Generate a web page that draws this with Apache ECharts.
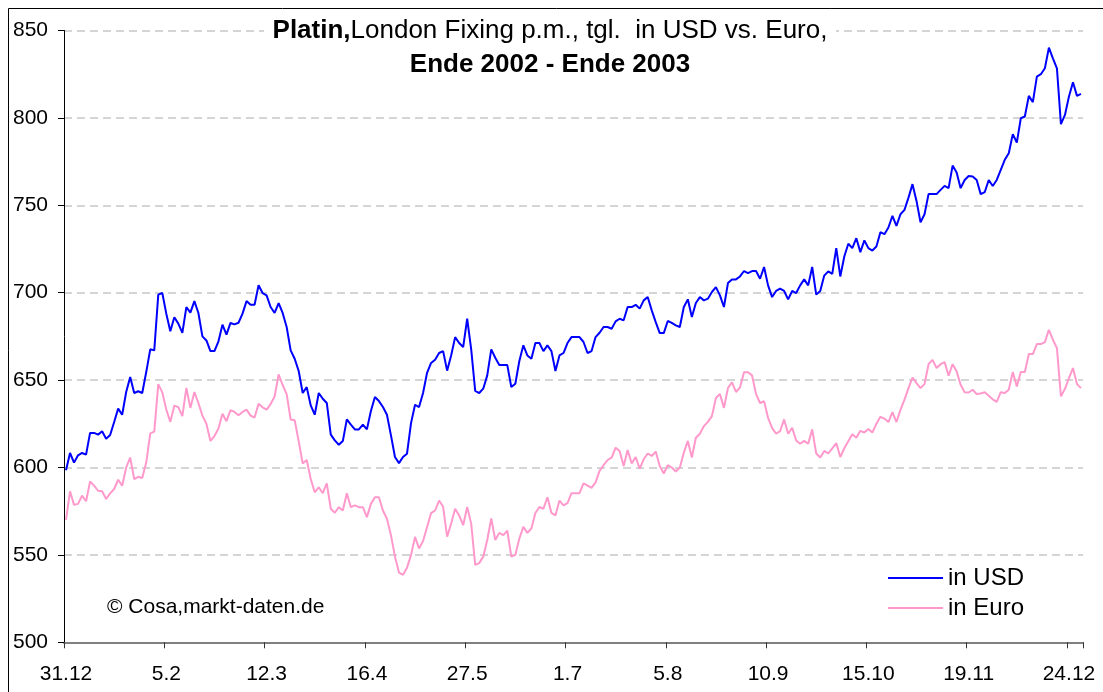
<!DOCTYPE html>
<html>
<head>
<meta charset="utf-8">
<script src="https://cdn.jsdelivr.net/npm/echarts@6/dist/echarts.min.js"></script>
<style>
html,body{margin:0;padding:0;background:#fff;}
#chart{width:1103px;height:692px;}
</style>
</head>
<body>
<div id="chart"></div>
<script>
// ---- data ----
const tickLabels = ['31.12','5.2','12.3','16.4','27.5','1.7','5.8','10.9','15.10','19.11','24.12'];
const labelEvery = 25;
const seriesNames = ['in USD', 'in Euro'];

const usd = [
598.4,608.3,602.8,607,608.3,607.4,619.8,619.8,618.8,620.7,
616.5,618.6,626,633.7,630.2,643.2,651.8,642.6,643.6,642.6,
654.6,667.6,667,698.9,699.8,688,678,686,682.3,677,
691.8,688.6,695.2,688.4,675,672.7,666.6,666.6,672.2,681.7,
676,682.7,681.9,682.8,688,695.2,693.1,693.1,704.3,699.8,
698.5,691.8,688.4,694.1,688.4,680.4,667,662.2,655.2,642.6,
646,635.5,630.2,642.6,639.3,636.9,618.8,615.5,613,615.1,
627.5,624.5,621.8,621.8,624.5,621.8,632.3,640.3,638,634.6,
630.2,618.4,606,602.5,606,607.9,625.4,635.9,634.6,642.6,
654.2,659.8,661.7,665.5,666.6,655.4,664.1,674.6,671.2,668.9,
685.1,667.6,643.8,642.6,645.1,652.7,667.6,662.8,658.6,658.6,
658.6,646,647.9,660.9,669.9,664.1,662.2,671.2,671.2,666.6,
669.9,666.6,655.2,664.1,665.5,671.2,674.6,674.6,674.6,671.8,
665.5,666.6,674.6,677.1,680.4,680.4,679.4,683.6,685.1,684.2,
691.8,691.8,693.1,690.9,695.6,697.5,689.9,683.2,676.9,676.9,
683.8,682.7,681.3,680.4,691.8,696.2,686.1,694.1,697.5,695.6,
696.6,700.4,703.2,698.5,691.8,705.5,707.6,707.6,709.3,712.4,
711.2,712.4,712.4,708,714.7,704.2,697.5,701,702.3,701,
696.2,701,699.8,704.2,707.6,704.2,714.7,698.9,701,709.8,
712.2,710.8,725.5,709.3,720.7,728,725.5,731.2,723.2,729.9,
725.5,724.1,726.4,734.6,733.5,737.3,744,738.2,744.9,747.4,
754.4,762.1,752.5,740.3,744.9,756.4,756.4,756.4,758.8,761.1,
759.8,772.7,768.7,759.8,764.5,766.8,766.5,764.5,756.4,757.5,
764.5,761,764.5,770.3,776,779.8,790.7,785.9,799.8,800.8,
812.6,809,823.6,825,828.4,840.2,834.1,828.4,796.4,801.7,
812.2,820.4,812.6,813.7
];

const euro = [
570.1,586.4,578.6,579.2,583.9,580.7,592,589.6,586.7,586.4,
582,585.2,587.7,593,589.6,600,605.7,593.4,594.7,594,
602.8,619.5,620.5,647.7,643,633.1,626.1,635.4,634.5,629.4,
645.5,634.1,643.2,636.9,629.7,625,615.2,618,622.3,630.7,
626.5,632.8,631.8,629.9,631.8,633.1,629.7,628.6,636.4,634.4,
633.1,636.3,640.6,653.3,647.2,642,627.4,627,615.1,602.3,
604.3,593.4,585.8,588.7,585.3,590.9,576.4,574.1,577.3,575.4,
585.3,577.3,578.3,577.3,577.3,571.6,579.2,583,583,575.4,
570.7,561.3,549,539.9,538.6,542.7,549.9,560.3,553.7,558,
566,573.9,575.4,581.1,577.5,560.4,567.9,576.4,572.6,567,
577.4,567.9,544.3,545.3,549,558.5,570.8,558.5,562.6,561.3,
563.8,549,550,559.4,566,562.6,565.1,574,577.4,576.4,
583,574,572.6,581.1,578.3,579.6,585.3,585.3,585.3,590.9,
589.6,588.3,591.5,598.1,601.3,604.3,605.7,611.3,609.4,600.9,
610,602.3,606,599.4,604.7,608,606.6,609.1,600.9,596.6,
601.3,600,597.7,600,608.5,615.2,605.7,617,619.3,623.7,
626.1,629.4,639.8,642,634.1,645.5,648.7,643.2,645.8,654.5,
654.5,652.7,642,636.9,637.9,628.4,622.7,619.3,620.8,627.5,
619.3,622.7,615.5,613.6,615.2,613.6,621.8,608,605.7,609.5,
608,611,614,606,611,615,619,617,621,620,
622,620,625,629,628,626,631.7,626,633,638.8,
645.4,651.5,648.3,645.4,647.7,659.1,661.6,656.9,659.1,660.3,
652.5,659.1,655,647.3,643.1,642.9,644.5,642,642.3,643.1,
641,639,637.6,643.1,642.6,644.5,654.6,646.4,654.6,654.6,
664.9,664.9,670.6,670.6,671.7,678.8,673.1,668.3,640.7,645,
651.1,656.9,647.7,645.4
];

const categories = usd.map((_, i) => (i % labelEvery === 0 && tickLabels[i / labelEvery]) ? tickLabels[i / labelEvery] : String(i));

const FONT = "'Liberation Sans', Arial, sans-serif";

const chart = echarts.init(document.getElementById('chart'), null, {renderer: 'canvas'});
chart.setOption({
  animation: false,
  backgroundColor: '#fff',
  grid: {left: 64, right: 20, top: 30.5, bottom: 49.7, containLabel: false},
  xAxis: {
    type: 'category',
    data: categories,
    boundaryGap: true,
    axisLine: {show: true, lineStyle: {color: '#808080', width: 2}},
    axisTick: {show: true, interval: labelEvery - 1, length: 6, lineStyle: {color: '#333', width: 1}},
    axisLabel: {
      interval: labelEvery - 1,
      margin: 21,
      color: '#000',
      fontFamily: FONT,
      fontSize: 21,
      formatter: (v, i) => (i % labelEvery === 0 ? v : '')
    },
    splitLine: {show: false}
  },
  yAxis: {
    type: 'value',
    min: 500, max: 850, interval: 50,
    axisLine: {show: true, lineStyle: {color: '#000', width: 1}},
    axisTick: {show: true, length: 6, lineStyle: {color: '#000', width: 1}},
    axisLabel: {margin: 16, color: '#000', fontFamily: FONT, fontSize: 21},
    splitLine: {show: true, lineStyle: {color: '#c8c8c8', width: 1.5, type: [8, 5]}}
  },
  legend: {
    data: seriesNames,
    orient: 'vertical',
    left: 888, top: 566,
    padding: 0,
    itemWidth: 55, itemHeight: 2, itemGap: 6,
    icon: 'rect',
    textStyle: {fontFamily: FONT, fontSize: 24, lineHeight: 24, color: '#000'}
  },
  graphic: [
    {type: 'rect', shape: {x: 8.5, y: 8.5, width: 1200, height: 1200}, style: {fill: 'none', stroke: '#000', lineWidth: 1}, silent: true, z: 100},
    {type: 'rect', shape: {x: 264, y: 17, width: 572, height: 28}, style: {fill: '#fff'}, silent: true, z: 100},
    {type: 'text', x: 550, y: 14, z: 101, silent: true,
     style: {
       text: '{b|Platin,}{n|London Fixing p.m., tgl.  in USD vs. Euro,}\n{b|Ende 2002 - Ende 2003}',
       align: 'center', verticalAlign: 'top',
       rich: {
         b: {fontFamily: FONT, fontSize: 26, fontWeight: 'bold', lineHeight: 34, fill: '#000'},
         n: {fontFamily: FONT, fontSize: 26, lineHeight: 34, fill: '#000'}
       }
     }},
    {type: 'text', x: 107, y: 607, z: 101, silent: true,
     style: {text: '© Cosa,markt-daten.de', fontFamily: FONT, fontSize: 21, fill: '#000', align: 'left', verticalAlign: 'middle'}}
  ],
  series: [
    {name: seriesNames[0], type: 'line', data: usd, symbol: 'none', lineStyle: {color: '#0000ff', width: 2}, itemStyle: {color: '#0000ff'}},
    {name: seriesNames[1], type: 'line', data: euro, symbol: 'none', lineStyle: {color: '#ff99cc', width: 2}, itemStyle: {color: '#ff99cc'}}
  ]
});
</script>
</body>
</html>
